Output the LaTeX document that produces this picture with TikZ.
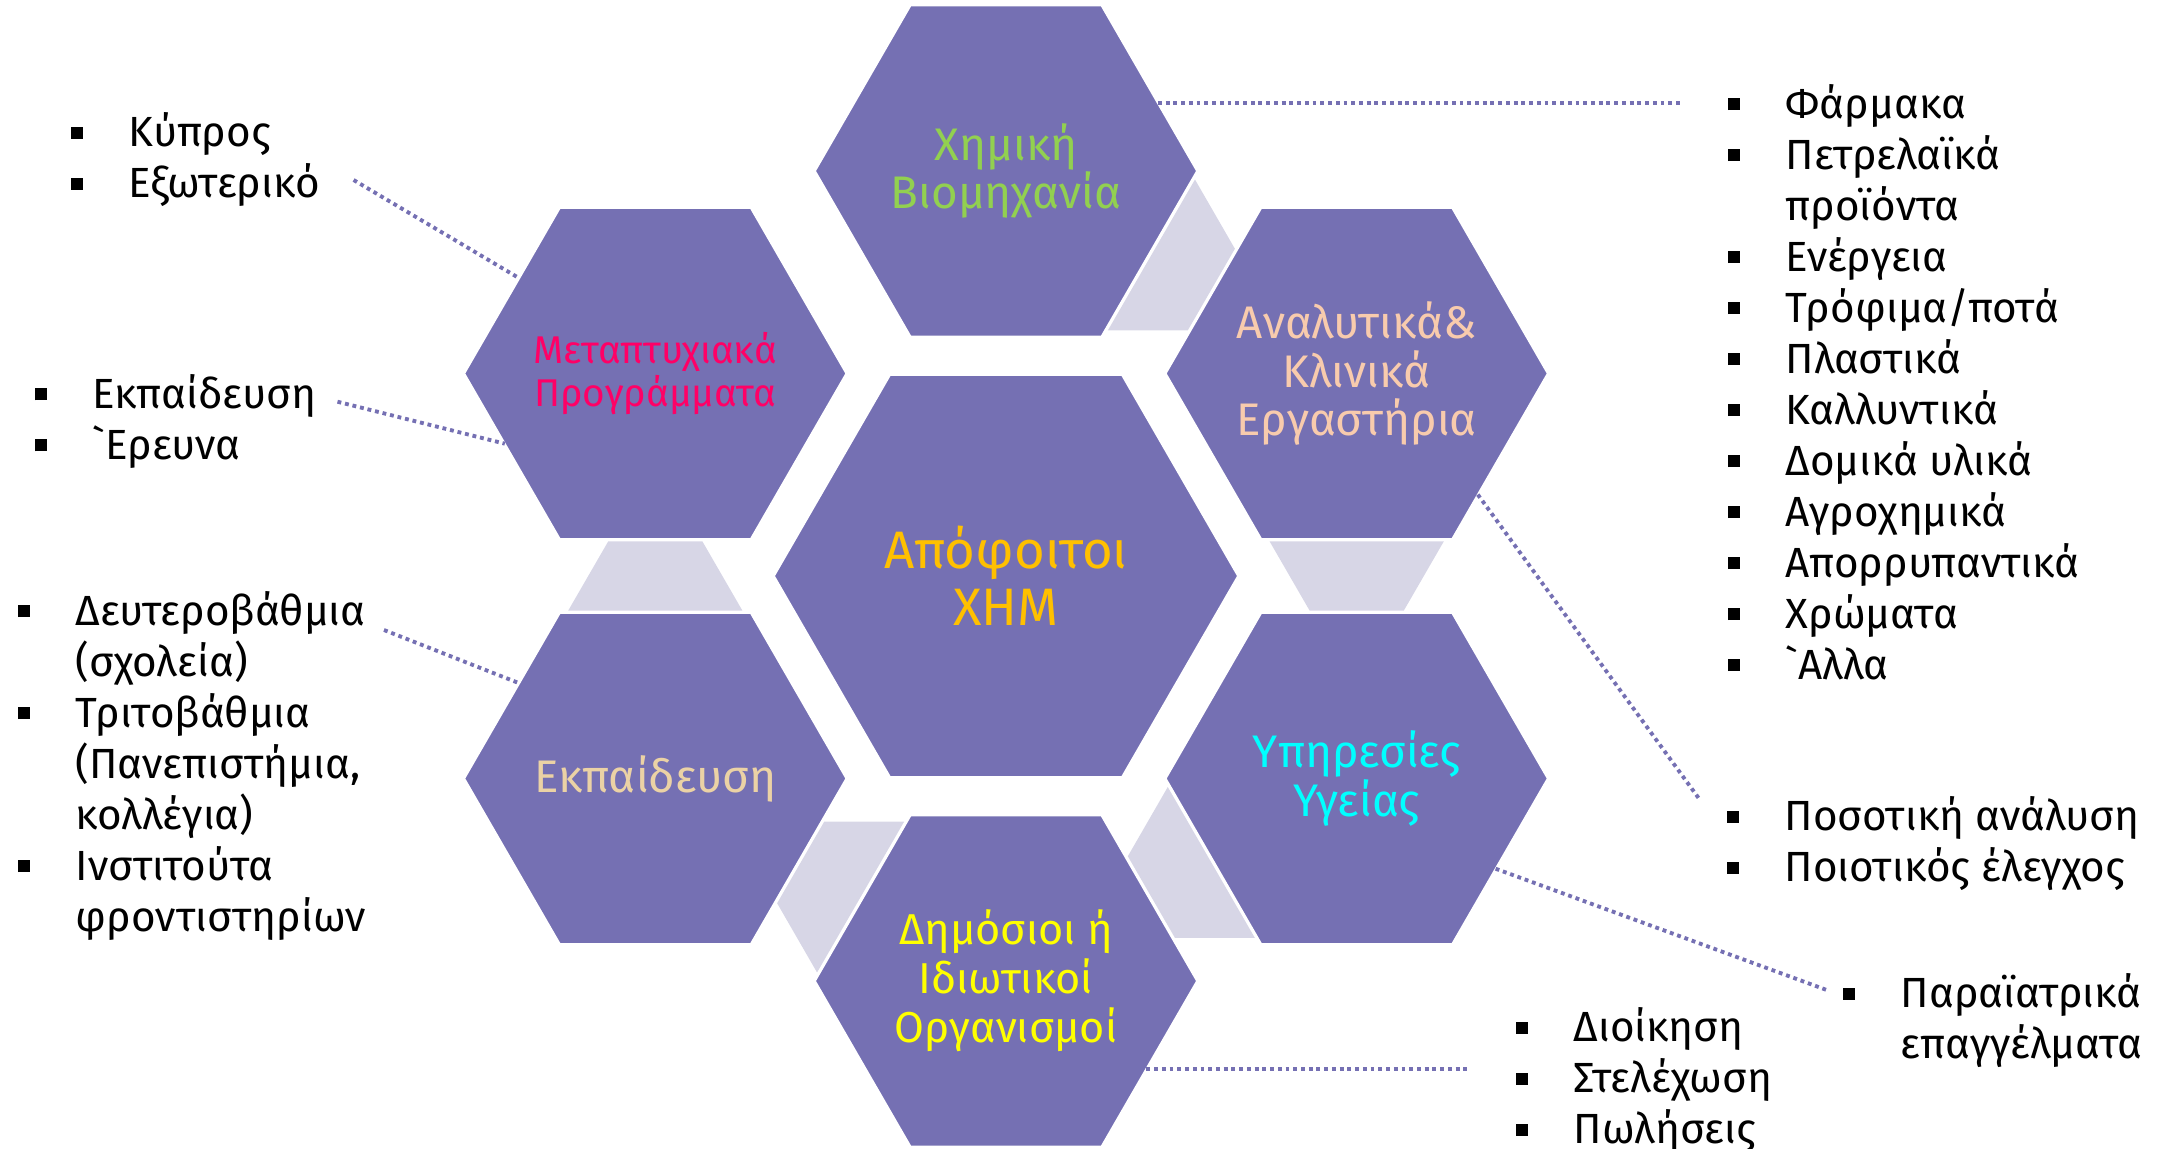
\documentclass[tikz,border=0pt]{standalone}
\usepackage{fontspec}
\newfontfamily\grfont{Fira Sans}
\usetikzlibrary{shapes.geometric}

\definecolor{hexfill}{RGB}{117,112,179}
\definecolor{linkfill}{RGB}{215,214,230}
\definecolor{chemtext}{RGB}{146,208,80}
\definecolor{posttext}{RGB}{255,0,102}
\definecolor{analtext}{RGB}{248,203,173}
\definecolor{gradtext}{RGB}{255,192,0}
\definecolor{edutext}{RGB}{235,210,165}
\definecolor{healthtext}{RGB}{0,255,255}
\definecolor{orgtext}{RGB}{255,255,0}

\newcommand{\bul}{\makebox[0.58cm][l]{\rule[0.08cm]{0.12cm}{0.12cm}}}
\newcommand{\nobul}{\hspace*{0.58cm}}
\newcommand{\hexlink}[2]{\fill[linkfill,shift={(#1)},rotate=#2] (1.679,-0.871) -- (2.371,-0.471) -- (2.371,0.471) -- (1.679,0.871) -- cycle;}

\begin{document}
\begin{tikzpicture}[
    hex/.style={regular polygon, regular polygon sides=6, fill=hexfill, draw=white, line width=0.5pt, inner sep=0pt, outer sep=0pt, minimum size=3.82cm},
    bighex/.style={hex, minimum size=4.64cm},
    hexlabel/.style={align=center, inner sep=0pt, font=\grfont\fontsize{13}{13.9}\selectfont},
    listtext/.style={align=left, inner sep=0pt, anchor=base west, font=\grfont\fontsize{12}{14.51}\selectfont},
    dotline/.style={hexfill, line width=1.1pt, dash pattern=on 1.1pt off 1.1pt}
]
    \useasboundingbox (0,0) rectangle (21.74,11.48);
    \clip (0,0) rectangle (21.74,11.48);

    \node[bighex] (grad) at (10.06,5.72) {};
    \node[hex] (chem) at (10.06,9.77) {};
    \node[hex] (anal) at (13.567,7.745) {};
    \node[hex] (health) at (13.567,3.695) {};
    \node[hex] (org) at (10.06,1.67) {};
    \node[hex] (edu) at (6.553,3.695) {};
    \node[hex] (post) at (6.553,7.745) {};

    \node[hexlabel, text=gradtext, font=\grfont\fontsize{15}{16.2}\selectfont] (gradlabel) at (grad) {Απόφοιτοι\\ΧΗΜ};
    \node[hexlabel, text=chemtext] (chemlabel) at (chem) {Χημική\\Βιομηχανία};
    \node[hexlabel, text=analtext] (anallabel) at (anal) {Αναλυτικά\&\\Κλινικά\\Εργαστήρια};
    \node[hexlabel, text=healthtext] (healthlabel) at (health) {Υπηρεσίες\\Υγείας};
    \node[hexlabel, text=orgtext, font=\grfont\fontsize{12.3}{13.9}\selectfont] (orglabel) at (org) {Δημόσιοι ή\\Ιδιωτικοί\\Οργανισμοί};
    \node[hexlabel, text=edutext] (edulabel) at (edu) {Εκπαίδευση};
    \node[hexlabel, text=posttext, font=\grfont\fontsize{11}{11}\selectfont] (postlabel) at (post) {Μεταπτυχιακά\\Προγράμματα};

    \hexlink{chem}{-30}
    \hexlink{anal}{-90}
    \hexlink{health}{-150}
    \hexlink{org}{150}
    \hexlink{edu}{90}

    \node[listtext] (abroad) at (0.70,9.503) {\bul Κύπρος\\\bul Εξωτερικό};
    \node[listtext] (research) at (0.34,6.887) {\bul Εκπαίδευση\\\bul `Ερευνα};
    \node[listtext] (schools) at (0.17,2.17) {\bul Δευτεροβάθμια\\\nobul (σχολεία)\\\bul Τριτοβάθμια\\\nobul (Πανεπιστήμια,\\\nobul κολλέγια)\\\bul Ινστιτούτα\\\nobul φροντιστηρίων};
    \node[listtext] (pharma) at (17.27,4.69) {\bul Φάρμακα\\\bul Πετρελαϊκά\\\nobul προϊόντα\\\bul Ενέργεια\\\bul Τρόφιμα/ποτά\\\bul Πλαστικά\\\bul Καλλυντικά\\\bul Δομικά υλικά\\\bul Αγροχημικά\\\bul Απορρυπαντικά\\\bul Χρώματα\\\bul `Αλλα};
    \node[listtext] (quality) at (17.26,2.665) {\bul Ποσοτική ανάλυση\\\bul Ποιοτικός έλεγχος};
    \node[listtext] (para) at (18.42,0.895) {\bul Παραϊατρικά\\\nobul επαγγέλματα};
    \node[listtext] (admin) at (15.15,0.045) {\bul Διοίκηση\\\bul Στελέχωση\\\bul Πωλήσεις};

    \coordinate (pharmaend) at (16.82,10.45);
    \coordinate (abroadend) at (3.536,9.68);
    \coordinate (researchend) at (3.375,7.463);
    \coordinate (schoolsend) at (3.84,5.18);
    \coordinate (qualityend) at (17.00,3.48);
    \coordinate (paraend) at (18.267,1.58);
    \coordinate (adminend) at (14.68,1.0);

    \draw[dotline] (chem.24) -- (chem.24 -| pharmaend);
    \draw[dotline] (abroadend) -- (post.145);
    \draw[dotline] (researchend) -- (post.205);
    \draw[dotline] (schoolsend) -- (edu.145);
    \draw[dotline] (anal.-45) -- (qualityend);
    \draw[dotline] (health.-33) -- (paraend);
    \draw[dotline] (org.-32) -- (org.-32 -| adminend);
\end{tikzpicture}
\end{document}
